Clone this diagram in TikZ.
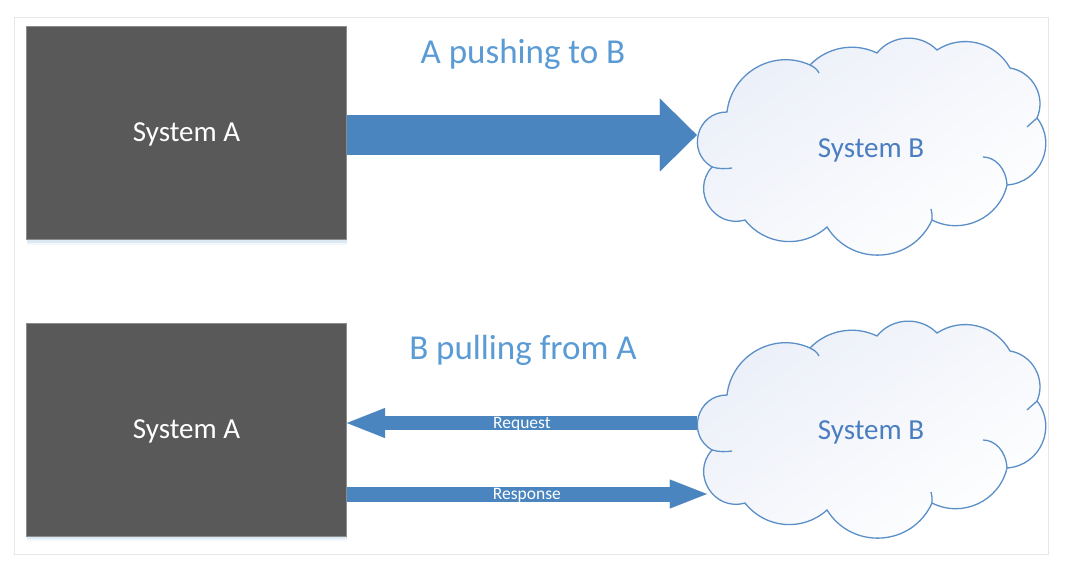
\documentclass[tikz,border=0pt]{standalone}
\usepackage{fontspec}
\setmainfont{Carlito}
\usetikzlibrary{arrows.meta,shadows,calc}
\definecolor{boxgray}{HTML}{595959}
\definecolor{boxedge}{HTML}{8C8C8C}
\definecolor{arrowblue}{HTML}{4A85BF}
\definecolor{cloudedge}{HTML}{5B8FC7}
\definecolor{titleblue}{HTML}{5B9BD5}
\definecolor{cloudtext}{HTML}{4A7EC0}
\definecolor{framegray}{HTML}{E6E6E6}
\definecolor{cloudfill}{HTML}{EBEFF8}
\newcommand{\drawmycloud}[1]{%
\begin{scope}[shift={(0,#1)}]
\path[cloudbody]
 (712,167) to[bend left=75, looseness=1.35] (727,112)
 to[bend left=54, looseness=1.07] (810,65)
 to[bend left=36, looseness=0.94] (877,53)
 to[bend left=48, looseness=1.02] (937,50)
 to[bend left=47, looseness=1.02] (1010,68)
 to[bend left=52, looseness=1.05] (1037,118)
 to[bend left=62, looseness=1.16] (1007,185)
 to[bend left=52, looseness=1.05] (932,220)
 to[bend left=62, looseness=1.16] (827,227)
 to[bend left=47, looseness=1.02] (745,220)
 to[bend left=74, looseness=1.33] (712,167) -- cycle;
\draw[cloudline] (810,65) .. controls (814,67) and (817,69) .. (819,73);
\draw[cloudline] (1037,118) .. controls (1034,121) and (1030,124) .. (1027,127);
\draw[cloudline] (983,157) .. controls (995,157) and (1006,168) .. (1007,185);
\draw[cloudline] (931,209) .. controls (932,213) .. (932,220);
\draw[cloudline] (712,167) .. controls (719,169) and (726,169) .. (732,168);
\end{scope}}
\begin{document}
\begin{tikzpicture}[x=1pt,y=-1pt,
  sysbox/.style={draw=boxedge, line width=1pt, fill=boxgray, minimum width=320pt,
    minimum height=213pt, inner sep=0pt, text=white,
    font=\fontsize{29}{30}\selectfont, text height=18pt, text depth=0pt,
    drop shadow={shadow xshift=0pt, shadow yshift=-5pt, opacity=0.08, fill=titleblue},
    drop shadow={shadow xshift=0pt, shadow yshift=-3pt, opacity=0.15, fill=titleblue}},
  titletext/.style={text=titleblue, font=\fontsize{35}{36}\selectfont, inner sep=0pt},
  cloudnode/.style={minimum width=348pt, minimum height=218pt, inner sep=0pt,
    text=cloudtext, font=\fontsize{29}{30}\selectfont, text height=18pt, text depth=0pt},
  cloudbody/.style={draw=cloudedge, line width=1.3pt, top color=cloudfill, bottom color=white, shading angle=35},
  cloudline/.style={draw=cloudedge, line width=1.3pt},
  pushar/.style={draw=arrowblue, line width=40pt, -{Triangle[length=37pt, width=73pt, line width=0.01pt]}},
  reqar/.style={draw=arrowblue, line width=14pt, -{Triangle[length=38pt, width=30pt, line width=0.01pt]}},
  respar/.style={draw=arrowblue, line width=15pt, -{Triangle[length=37pt, width=29pt, line width=0.01pt]}},
  arrowlabel/.style={text=white, font=\fontsize{17.5}{18}\selectfont, inner sep=0pt, text height=11pt, text depth=0pt}
]
\useasboundingbox[fill=white] (0,0) rectangle (1068,564);
\draw[framegray, line width=1pt] (14,18) rectangle (1048,554);

\node[sysbox] (A1) at (186.5,133) {System A};
\node[sysbox] (A2) at (186.5,429.5) {System A};

\node[titletext, anchor=base] (T1) at (523,64) {A pushing to B};
\node[titletext, anchor=base] (T2) at (523,359) {B pulling from A};

\drawmycloud{0}
\drawmycloud{283}

\node[cloudnode] (B1) at (871,149) {System B};
\node[cloudnode] (B2) at (871,430) {System B};

\draw[pushar] (A1.east |- 0,135) -- (B1.west |- 0,135);
\draw[reqar] (B2.west |- 0,423) -- node[arrowlabel] {Request} (A2.east |- 0,423);
\draw[respar] (A2.east |- 0,494) -- node[arrowlabel] {Response} ($(B2.west |- 0,494)+(10,0)$);
\end{tikzpicture}
\end{document}
